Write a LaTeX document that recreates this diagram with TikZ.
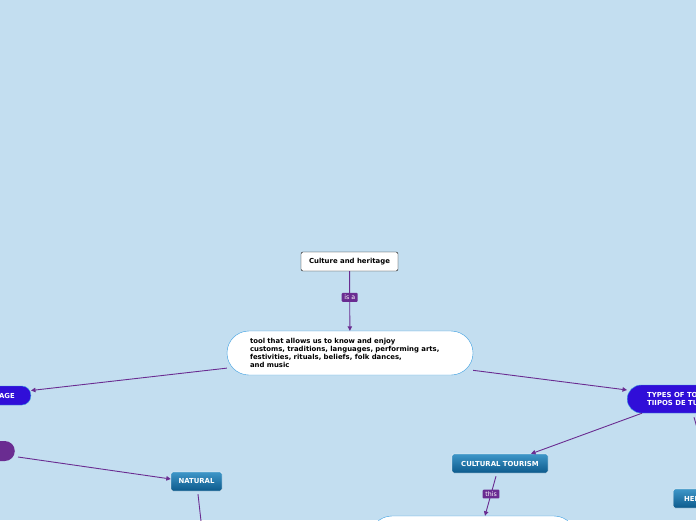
\documentclass[tikz,border=0pt]{standalone}
\usepackage{fontspec}
\setmainfont{DejaVu Sans}
\usepackage{xcolor}
\usepackage{tikz}
\usetikzlibrary{arrows.meta,positioning}
\definecolor{skyback}{RGB}{195,222,240}
\definecolor{linkpurple}{RGB}{106,44,145}
\definecolor{pillblue}{RGB}{48,14,216}
\definecolor{rimblue}{RGB}{58,158,224}
\definecolor{shadetop}{RGB}{62,150,200}
\definecolor{shadebot}{RGB}{12,90,140}

\begin{document}
\begin{tikzpicture}[
  x=1pt,y=-1pt,
  txt/.style={font=\bfseries\fontsize{6.9}{8}\selectfont},
  topic/.style={txt,draw=black,fill=white,rounded corners=2pt,
    minimum width=97pt,minimum height=19pt,inner sep=0pt},
  cloud/.style={txt,draw=rimblue,fill=white,rounded corners=22pt,
    align=left,text width=200pt,inner sep=0pt},
  pill/.style={txt,text=white,draw=rimblue,fill=pillblue,align=left,
    rounded corners=9pt,minimum height=19pt,inner ysep=0pt},
  tag/.style={txt,text=white,draw=white,rounded corners=2pt,
    top color=shadetop,bottom color=shadebot,minimum height=19pt,inner sep=0pt},
  lbl/.style={font=\fontsize{6.3}{7}\selectfont,text=white,fill=linkpurple,
    rounded corners=1pt,inner xsep=2.6pt,inner ysep=2pt},
  arr/.style={-{Triangle[length=4.5pt,width=4.5pt]},draw=linkpurple,line width=0.9pt},
  ln/.style={draw=linkpurple,line width=0.9pt}
]
\useasboundingbox (0,0) rectangle (696,520);
\clip (0,0) rectangle (696,520);
\fill[skyback] (0,0) rectangle (696,520);

\node[topic] (culture) at (349.5,261.5) {Culture and heritage};
\node[cloud,minimum width=246pt,minimum height=44pt] (tool) at (350,353)
  {tool that allows us to know and enjoy\\customs, traditions, languages, performing arts,\\festivities, rituals, beliefs, folk dances,\\and music};
\node[pill,anchor=east,inner xsep=16pt] (heritage) at (31,395.5) {HERITAGE};
\node[pill,anchor=east,draw=none,fill=linkpurple,minimum width=60pt,
  minimum height=20pt,rounded corners=10pt] (group) at (15,451) {};
\node[tag,minimum width=51pt] (natural) at (196.5,481.5) {NATURAL};
\node[pill,anchor=west,inner xsep=20pt,minimum height=28pt,rounded corners=14pt]
  (types) at (627,399) {TYPES OF TOURISM\\TIIPOS DE TURISMO};
\node[tag,minimum width=96pt] (cultural) at (500,463.5) {CULTURAL TOURISM};
\node[cloud,minimum width=206pt,minimum height=48pt,text width=170pt] (detail) at (473,540) {};
\node[tag,anchor=west,minimum width=60pt] (herit) at (673,498.5) {HERITAGE};
\coordinate (offtypes) at (702,445);
\coordinate (offnat) at (202,530);

\draw[arr] (culture) -- node[lbl,pos=0.44] {is a} (tool);
\draw[arr] (tool.-173) -- ([yshift=5pt]heritage.east);
\draw[arr] (tool.-8) -- ([yshift=9pt]types.west);
\draw[arr] ([xshift=3pt,yshift=-6pt]group.east) -- ([yshift=2.5pt]natural.west);
\draw[ln] ([xshift=1.5pt,yshift=-3pt]natural.south) -- (offnat);
\draw[arr] ([xshift=15pt]types.south west) -- ([xshift=31pt]cultural.north);
\draw[ln] ([xshift=67pt,yshift=-4pt]types.south west) -- (offtypes);
\draw[arr] ([xshift=-4pt,yshift=-3pt]cultural.south) -- node[lbl,pos=0.45] {this} ([xshift=12pt]detail.north);
\end{tikzpicture}
\end{document}
